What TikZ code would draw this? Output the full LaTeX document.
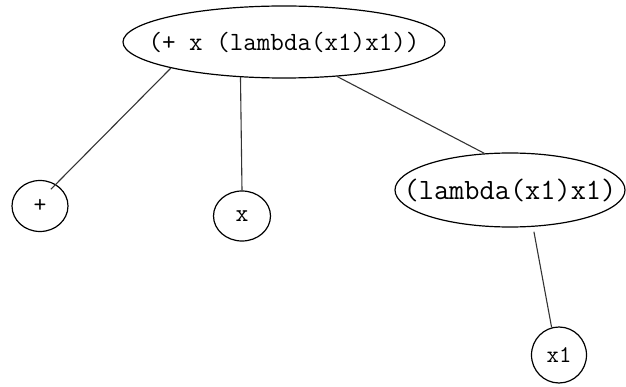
\documentclass[tikz,border=0pt]{standalone}
\usepackage{fontspec}
\usetikzlibrary{shapes.geometric}
\begin{document}
\begin{tikzpicture}[x=1pt,y=-1pt,
  oval/.style={draw,ellipse,line width=1.2pt,inner sep=0pt},
  wide/.style={inner xsep=-50pt},
  edge/.style={draw=black!80,line width=1.1pt}]
\useasboundingbox (0,0) rectangle (626,387);

%the whole expression
\node[oval,wide,minimum width=322pt,minimum height=72pt,
  font=\ttfamily\fontsize{26.3}{26.3}\selectfont] (root) at (284,42){(+ x (lambda(x1)x1))};

%leaves and subexpression
\node[oval,minimum width=56pt,minimum height=51pt,
  font=\ttfamily\fontsize{25}{25}\selectfont] (plus) at (40,206){+};
\node[oval,minimum width=57pt,minimum height=50pt,
  font=\ttfamily\fontsize{25}{25}\selectfont] (xleaf) at (242,216){x};
\node[oval,wide,minimum width=230pt,minimum height=74pt,
  font=\ttfamily\fontsize{29.5}{29.5}\selectfont] (lam) at (510,190){(lambda(x1)x1)};
\node[oval,minimum width=55pt,minimum height=56pt,
  font=\ttfamily\fontsize{24}{24}\selectfont] (xone) at (559,355){x1};

\draw[edge,shorten >=-7pt] (root.193) -- (plus.54);
\draw[edge] (root.219.6) -- (xleaf.north);
\draw[edge] (root.-33) -- (lam.125);
\draw[edge,shorten <=5pt] (lam.-58) -- (xone.105); %down to x1

\end{tikzpicture}
\end{document}
